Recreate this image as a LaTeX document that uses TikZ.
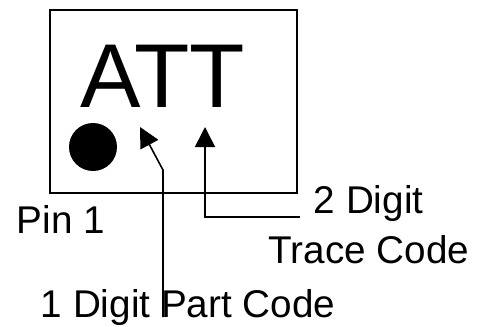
\documentclass[tikz,border=0pt]{standalone}
\usepackage{fontspec}
\setmainfont{Liberation Sans}
\usetikzlibrary{arrows.meta,fit,calc}

\begin{document}
\begin{tikzpicture}[
    x=0.75pt, y=-0.75pt,
    >={Triangle[length=15pt,width=15pt]},
    line width=1.2pt,
    callout/.style={
        anchor=base west,
        inner sep=0pt,
        font=\fontsize{29}{32}\selectfont,
    },
    pointer/.style={
        ->,
        line width=1.2pt,
        black,
    },
]
    \useasboundingbox (0,0) rectangle (482,326);

    % Package outline
    \coordinate (c1) at (50,10);
    \coordinate (c2) at (297,193);
    \node[draw, inner sep=0pt, fit=(c1) (c2)] (chip) {};

    % Marking and pin 1 dot
    \node[anchor=base west, inner sep=0pt, font=\fontsize{68}{72}\selectfont] (mark) at (80,107) {ATT};
    \node[circle, fill=black, minimum size=36pt, inner sep=0pt] (dot) at (93,147) {};

    % Labels
    \node[callout] (pinlbl)   at (16,233)  {Pin 1};
    \node[callout] (digitlbl) at (313,213) {2 Digit};
    \node[callout] (tracelbl) at (268,263) {Trace Code};
    \node[callout] (partlbl)  at (40,317)  {1 Digit Part Code};

    % Pointers
    \coordinate (tip1) at (140,127);
    \coordinate (bend1) at (163,170);
    \coordinate (tip2) at (205,127);
    \coordinate (foot2) at ($(digitlbl.base west) + (-13,4)$);
    \draw[pointer] (bend1 |- partlbl.base) -- (bend1) -- (tip1);
    \draw[pointer] (foot2) -| (tip2);

\end{tikzpicture}
\end{document}
